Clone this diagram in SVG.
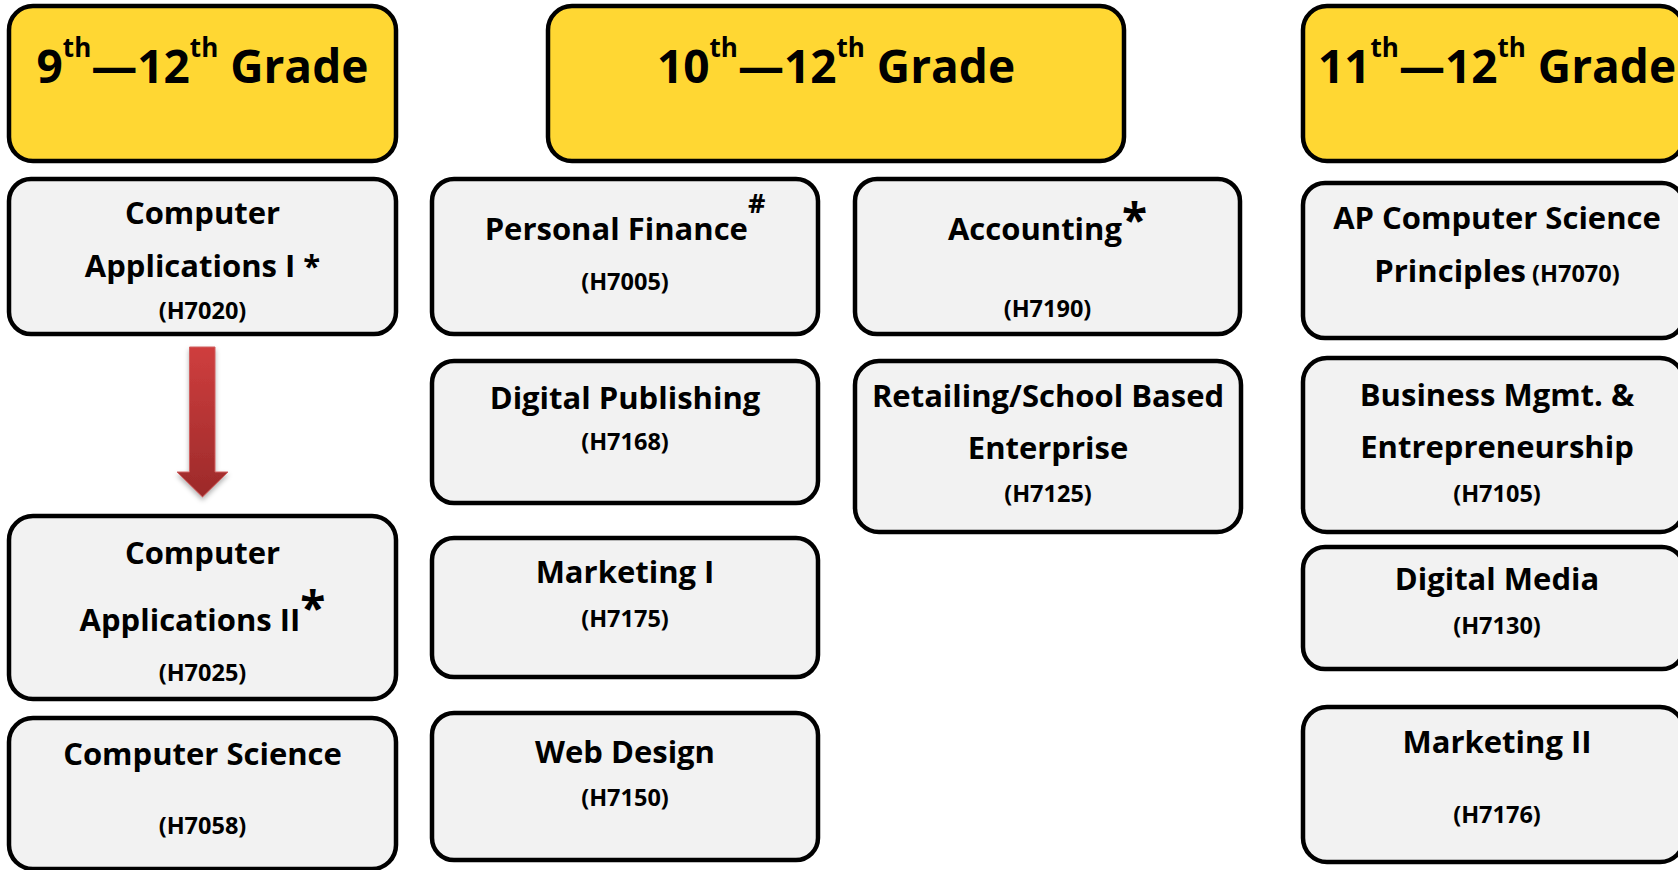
<svg xmlns="http://www.w3.org/2000/svg" width="1678" height="870" viewBox="0 0 1678 870">
<defs>
<style>
.grade rect{fill:#FFD733;stroke:#000;stroke-width:4.5}
.course rect{fill:#F2F2F2;stroke:#000;stroke-width:4.5}
text{font-family:"Open Sans","Noto Sans","Liberation Sans",sans-serif;font-weight:700;fill:#000;text-anchor:middle}
.t{font-size:46px}
.c{font-size:31px}
.k{font-size:23.5px}
</style>
<linearGradient id="arrowGrad" x1="0" y1="0" x2="0" y2="1">
<stop offset="0" stop-color="#CF3E3E"/>
<stop offset="1" stop-color="#9C2A2A"/>
</linearGradient>
<filter id="shadow" x="-30%" y="-10%" width="160%" height="130%">
<feDropShadow dx="0" dy="3" stdDeviation="2.5" flood-color="#000" flood-opacity="0.3"/>
</filter>
</defs>
<rect width="1678" height="870" fill="#fff"/>

<g id="grade-9-12" class="grade">
<rect x="9" y="6" width="387" height="155" rx="24"/>
<text class="t" x="202.5" y="83">9<tspan dy="-26" font-size="26">th</tspan><tspan dy="26">—12</tspan><tspan dy="-26" font-size="26">th</tspan><tspan dy="26"> Grade</tspan></text>
</g>
<g id="grade-10-12" class="grade">
<rect x="548" y="6" width="576" height="155" rx="24"/>
<text class="t" x="836" y="83">10<tspan dy="-26" font-size="26">th</tspan><tspan dy="26">—12</tspan><tspan dy="-26" font-size="26">th</tspan><tspan dy="26"> Grade</tspan></text>
</g>
<g id="grade-11-12" class="grade">
<rect x="1303" y="6" width="381" height="155" rx="24"/>
<text class="t" x="1497" y="83">11<tspan dy="-26" font-size="26">th</tspan><tspan dy="26">—12</tspan><tspan dy="-26" font-size="26">th</tspan><tspan dy="26"> Grade</tspan></text>
</g>

<g id="connectors">
<path d="M189.5 347 H215 V472 H228 L202.5 497 L177 472 H189.5 Z" fill="url(#arrowGrad)" stroke="#D06060" stroke-width="1" filter="url(#shadow)"/>
</g>

<g id="comp-app-1" class="course">
<rect x="9" y="179" width="387" height="155" rx="22"/>
<text class="c" x="202.5" y="224">Computer</text>
<text class="c" x="202.5" y="277">Applications I *</text>
<text class="k" x="202.5" y="319">(H7020)</text>
</g>
<g id="comp-app-2" class="course">
<rect x="9" y="516" width="387" height="183" rx="24"/>
<text class="c" x="202.5" y="564">Computer</text>
<text class="c" x="202.5" y="631">Applications II<tspan font-size="46" dy="-6">*</tspan></text>
<text class="k" x="202.5" y="681">(H7025)</text>
</g>
<g id="comp-sci" class="course">
<rect x="9" y="718" width="387" height="151" rx="24"/>
<text class="c" x="202.5" y="765">Computer Science</text>
<text class="k" x="202.5" y="834">(H7058)</text>
</g>

<g id="personal-finance" class="course">
<rect x="432" y="179" width="386" height="155" rx="22"/>
<text class="c" x="625" y="240">Personal Finance<tspan font-size="27" dy="-27">#</tspan></text>
<text class="k" x="625" y="290">(H7005)</text>
</g>
<g id="digital-publishing" class="course">
<rect x="432" y="361" width="386" height="142" rx="22"/>
<text class="c" x="625" y="409">Digital Publishing</text>
<text class="k" x="625" y="450">(H7168)</text>
</g>
<g id="marketing-1" class="course">
<rect x="432" y="538" width="386" height="139" rx="22"/>
<text class="c" x="625" y="583">Marketing I</text>
<text class="k" x="625" y="627">(H7175)</text>
</g>
<g id="web-design" class="course">
<rect x="432" y="713" width="386" height="147" rx="22"/>
<text class="c" x="625" y="763">Web Design</text>
<text class="k" x="625" y="806">(H7150)</text>
</g>

<g id="accounting" class="course">
<rect x="855" y="179" width="385" height="155" rx="22"/>
<text class="c" x="1047.5" y="240">Accounting<tspan font-size="46" dy="-3">*</tspan></text>
<text class="k" x="1047.5" y="317">(H7190)</text>
</g>
<g id="retailing" class="course">
<rect x="855" y="361" width="386" height="171" rx="24"/>
<text class="c" x="1048" y="407">Retailing/School Based</text>
<text class="c" x="1048" y="459">Enterprise</text>
<text class="k" x="1048" y="502">(H7125)</text>
</g>

<g id="ap-csp" class="course">
<rect x="1303" y="183" width="381" height="155" rx="22"/>
<text class="c" x="1497" y="229">AP Computer Science</text>
<text class="c" x="1497" y="282">Principles<tspan font-size="23.5"> (H7070)</tspan></text>
</g>
<g id="business-mgmt" class="course">
<rect x="1303" y="358" width="381" height="174" rx="24"/>
<text class="c" x="1497" y="406">Business Mgmt. &amp;</text>
<text class="c" x="1497" y="458">Entrepreneurship</text>
<text class="k" x="1497" y="502">(H7105)</text>
</g>
<g id="digital-media" class="course">
<rect x="1303" y="547" width="381" height="122" rx="22"/>
<text class="c" x="1497" y="590">Digital Media</text>
<text class="k" x="1497" y="634">(H7130)</text>
</g>
<g id="marketing-2" class="course">
<rect x="1303" y="707" width="381" height="155" rx="24"/>
<text class="c" x="1497" y="753">Marketing II</text>
<text class="k" x="1497" y="823">(H7176)</text>
</g>
</svg>
